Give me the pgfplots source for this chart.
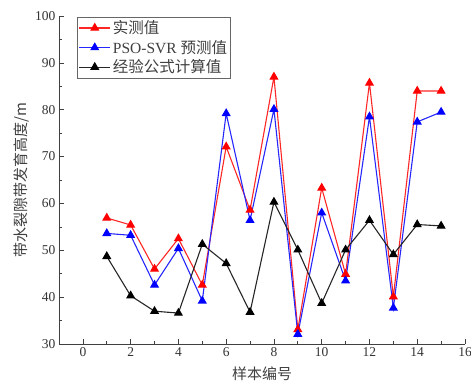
\documentclass[border=0pt]{standalone}
\usepackage{pgfplots}
\pgfplotsset{compat=1.18}
\usepackage{fontspec}
\setmainfont{Liberation Serif}
\newfontfamily\cjk{Noto Sans CJK SC}
\usetikzlibrary{calc}
\begin{document}
\begin{tikzpicture}
\begin{axis}[
  width=406pt, height=328pt, scale only axis,
  xmin=-1, xmax=16, ymin=30, ymax=100,
  xtick={0,2,...,16}, ytick={30,40,...,100},
  minor x tick num=1, minor y tick num=1,
  axis x line*=bottom, axis y line*=left,
  axis line style={black!75, line width=0.8pt},
  tick align=inside, tick style={black!75, line width=0.7pt},
  major tick length=5pt, minor tick length=3pt,
  /pgf/number format/assume math mode=true,
  tick label style={font=\fontsize{13.5}{14}\selectfont, text=black!80},
  xlabel={\cjk 样本编号}, ylabel={\cjk 带水裂隙带发育高度/m},
  label style={font=\fontsize{15}{16}\selectfont, text=black!75},
  xlabel style={yshift=-3pt},
  ylabel style={yshift=-1pt},
  legend style={at={(axis description cs:0.044,0.997)}, anchor=north west,
    draw=black!60, font=\fontsize{15.5}{17}\selectfont, text=black!75,
    inner sep=1.5pt, row sep=1pt, cells={anchor=west}},
  legend cell align=left,
  legend image code/.code={\draw[mark repeat=2,mark phase=2] plot coordinates {(0cm,0cm) (0.55cm,0cm) (1.1cm,0cm)};},
  every axis plot/.append style={line width=1.1pt, mark=triangle*, mark size=4.2pt},
]
\addplot[red!85, mark options={fill=red, draw=red}] coordinates {
(1,56.9)(2,55.4)(3,46)(4,52.5)(5,42.6)(6,72.1)(7,58.6)(8,87)(9,33.1)(10,63.3)(11,44.9)(12,85.7)(13,40.1)(14,84)(15,84)};
\addlegendentry{\cjk 实测值}
\addplot[blue!85, mark options={fill=blue, draw=blue}] coordinates {
(1,53.6)(2,53.2)(3,42.6)(4,50.4)(5,39.2)(6,79.2)(7,56.4)(8,80.1)(9,32.1)(10,58)(11,43.5)(12,78.5)(13,37.7)(14,77.4)(15,79.5)};
\addlegendentry{PSO-SVR {\cjk 预测值}}
\addplot[black!85, mark options={fill=black, draw=black}] coordinates {
(1,48.7)(2,40.3)(3,37)(4,36.6)(5,51.3)(6,47.2)(7,36.8)(8,60.3)(9,50.1)(10,38.7)(11,50.1)(12,56.4)(13,49.1)(14,55.5)(15,55.2)};
\addlegendentry{\cjk 经验公式计算值}
\end{axis}
\pgfresetboundingbox
\path ($(current axis.south west)+(-59pt,-47pt)$) rectangle ($(current axis.north east)+(6pt,16pt)$);
\end{tikzpicture}
\end{document}
